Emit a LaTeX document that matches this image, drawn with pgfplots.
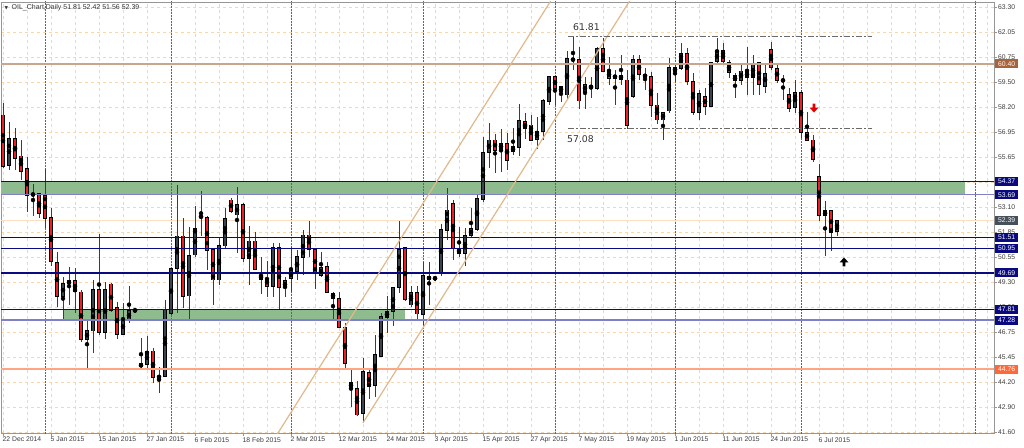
\documentclass[border=0pt]{standalone}
\usepackage{fontspec}
\setmainfont{Liberation Sans}
\newfontfamily\dejavu{DejaVu Sans}
\usepackage{pgfplots}
\usepackage{pgfplotstable}
\pgfplotsset{compat=1.18}

\definecolor{bullc}{RGB}{58,68,78}
\definecolor{bearc}{RGB}{232,32,40}
\definecolor{wickc}{RGB}{60,60,60}
\definecolor{gridc}{RGB}{250,214,170}
\definecolor{bidc}{RGB}{252,222,192}
\definecolor{navyc}{RGB}{10,10,128}
\definecolor{lavc}{RGB}{128,128,200}
\definecolor{greenc}{RGB}{143,188,143}
\definecolor{tanc}{RGB}{200,165,140}
\definecolor{brownbox}{RGB}{165,100,60}
\definecolor{salmonc}{RGB}{255,165,130}
\definecolor{orangebox}{RGB}{255,105,55}
\definecolor{greybox}{RGB}{70,80,90}
\definecolor{chanc}{RGB}{225,185,140}
\definecolor{framec}{RGB}{150,150,150}
\definecolor{sepc}{RGB}{100,100,100}
\definecolor{dashc}{RGB}{105,105,105}
\definecolor{labelc}{RGB}{60,60,60}

% OIL daily candles: bar index, open, high, low, close
\pgfplotstableread{
x o h l c
0 57.77 58.40 55.06 55.13
2 56.58 57.09 54.96 55.56
3 55.67 56.49 54.45 54.87
4 55.01 55.64 52.82 53.64
6 53.73 53.80 52.49 52.74
7 53.66 54.99 51.97 52.49
8 52.54 53.00 50.04 50.26
9 50.21 50.75 47.96 48.47
12 49.29 49.96 47.65 48.73
13 48.71 48.82 46.17 46.29
16 48.85 51.68 46.51 46.63
18 49.12 49.19 47.71 47.79
19 47.93 48.20 46.29 46.56
25 45.69 45.85 44.04 44.33
30 51.58 52.49 47.88 48.47
34 52.54 52.60 49.84 50.86
35 50.90 50.95 48.05 49.33
38 53.42 53.51 52.77 52.82
40 53.20 53.28 50.26 50.44
42 51.32 51.80 49.84 49.88
43 49.58 50.49 48.61 49.36
44 49.41 50.32 48.44 49.02
46 50.98 51.21 47.79 48.95
51 51.63 52.36 50.52 50.90
52 50.90 50.91 48.85 49.67
54 50.01 50.26 48.68 48.71
55 48.65 48.73 47.25 48.39
56 48.36 48.73 46.86 46.91
57 46.91 47.11 44.72 45.06
58 44.07 44.72 42.81 43.79
59 43.79 44.17 42.37 42.42
61 44.60 44.72 43.22 43.87
67 50.98 51.00 48.27 48.34
69 48.70 49.02 47.25 47.59
71 49.50 50.26 48.05 49.36
75 53.22 53.42 50.35 50.95
76 50.95 52.02 50.49 50.69
82 56.49 56.80 54.82 55.98
84 56.32 56.84 54.96 55.43
87 57.43 57.86 56.53 57.09
88 57.26 57.77 56.42 56.49
92 59.73 59.77 58.28 59.14
93 59.22 59.26 58.45 58.96
95 60.66 61.81 60.08 60.55
96 60.59 61.27 58.08 58.49
98 59.26 59.73 58.63 59.17
100 61.19 61.71 59.99 60.02
101 60.04 60.76 59.31 59.65
104 59.56 60.08 57.08 57.26
106 60.59 60.84 59.56 59.86
107 59.86 60.17 59.05 59.70
108 59.73 59.99 57.69 58.28
109 58.28 58.88 57.30 57.52
114 60.93 61.19 59.31 59.48
115 59.48 59.91 57.77 57.89
117 58.71 59.14 57.77 58.23
120 61.05 61.44 60.42 60.50
121 60.45 60.59 59.65 59.96
122 59.77 59.91 58.63 59.53
124 59.99 61.27 58.80 59.70
126 60.47 60.50 58.80 59.36
128 61.10 61.52 60.08 60.19
129 60.16 60.37 59.39 59.56
130 59.61 59.82 58.54 59.48
131 58.83 59.14 57.94 58.12
133 58.91 59.05 56.58 56.89
134 56.89 57.91 56.44 56.49
135 56.49 56.75 55.35 55.52
136 54.61 55.25 52.35 52.62
138 52.87 52.91 50.83 51.75
}\bear

\pgfplotstableread{
x o h l c
1 55.21 57.43 54.96 56.58
5 53.64 54.24 52.60 53.77
10 48.47 49.47 47.28 49.16
11 49.14 49.98 48.05 49.28
14 46.29 47.32 44.76 46.72
15 46.72 49.33 45.58 48.85
17 46.63 49.24 46.29 48.82
20 46.56 48.14 46.51 47.32
21 47.28 49.02 47.11 47.76
22 47.77 47.84 47.69 47.78
23 44.89 46.34 44.72 45.03
24 45.01 46.48 44.72 45.69
26 44.35 44.89 43.56 44.38
27 44.38 48.31 44.35 47.79
28 47.62 49.94 47.54 49.93
29 49.93 54.19 47.62 51.58
31 48.51 52.03 47.33 50.59
32 50.61 53.12 50.52 51.97
33 52.55 53.90 51.58 52.58
36 49.33 51.54 49.07 51.08
37 51.07 53.01 50.95 52.49
39 52.66 54.07 50.73 53.17
41 50.44 52.09 49.07 51.32
45 48.98 51.21 48.44 50.98
47 48.93 49.50 48.44 49.28
48 49.41 51.03 48.73 49.79
49 49.75 50.86 49.33 50.52
50 50.49 51.89 49.58 51.63
53 49.58 50.78 49.50 49.98
60 42.51 45.32 42.02 44.64
62 43.95 46.51 43.36 45.49
63 45.40 47.62 45.37 47.45
64 47.42 48.51 46.63 47.71
65 47.71 48.98 46.97 48.93
66 48.95 52.36 48.68 50.90
68 48.05 49.02 47.93 48.70
70 47.57 50.26 47.02 49.55
72 49.36 49.53 49.29 49.47
73 49.67 52.19 49.53 51.89
74 51.85 54.05 51.38 52.91
77 50.69 51.97 50.04 51.60
78 51.60 53.03 51.46 51.97
79 51.92 53.71 51.85 53.51
80 53.46 56.63 53.34 55.86
81 55.84 57.35 55.04 56.49
83 55.98 57.06 54.87 56.32
85 55.89 57.09 55.73 56.15
86 56.12 58.32 55.67 57.47
89 56.54 57.69 56.02 56.92
90 56.92 58.59 56.49 58.49
91 58.45 59.77 58.28 59.73
94 58.80 61.05 58.54 60.64
97 58.96 59.73 58.08 59.34
99 59.14 61.27 59.05 61.19
102 59.65 60.08 58.28 59.82
103 59.60 60.84 59.31 59.82
105 58.71 60.84 58.64 60.59
110 57.52 57.94 56.49 57.91
111 57.98 60.67 57.86 60.21
112 59.99 60.33 59.48 60.19
113 60.16 61.44 60.08 60.93
116 57.89 59.05 57.52 58.85
118 58.20 60.50 58.17 60.47
119 60.50 61.70 60.37 61.05
123 59.53 60.33 59.31 60.02
125 59.70 60.84 58.80 60.42
127 59.22 60.33 58.88 59.91
132 58.17 59.56 57.86 58.91
137 52.62 53.37 50.57 52.87
139 51.81 52.42 51.56 52.39
}\bull

\pgfdeclareplotmark{dnarrow}{%
  \pgfpathmoveto{\pgfpoint{-1.4pt}{4.5pt}}%
  \pgfpathlineto{\pgfpoint{1.4pt}{4.5pt}}%
  \pgfpathlineto{\pgfpoint{1.4pt}{0.3pt}}%
  \pgfpathlineto{\pgfpoint{4.3pt}{0.3pt}}%
  \pgfpathlineto{\pgfpoint{0pt}{-4.5pt}}%
  \pgfpathlineto{\pgfpoint{-4.3pt}{0.3pt}}%
  \pgfpathlineto{\pgfpoint{-1.4pt}{0.3pt}}%
  \pgfpathclose\pgfusepathqfill}
\pgfdeclareplotmark{uparrow}{%
  \pgfpathmoveto{\pgfpoint{-1.4pt}{-4.5pt}}%
  \pgfpathlineto{\pgfpoint{1.4pt}{-4.5pt}}%
  \pgfpathlineto{\pgfpoint{1.4pt}{-0.3pt}}%
  \pgfpathlineto{\pgfpoint{4.3pt}{-0.3pt}}%
  \pgfpathlineto{\pgfpoint{0pt}{4.5pt}}%
  \pgfpathlineto{\pgfpoint{-4.3pt}{-0.3pt}}%
  \pgfpathlineto{\pgfpoint{-1.4pt}{-0.3pt}}%
  \pgfpathclose\pgfusepathqfill}

\pgfplotsset{
  ebar/.style 2 args={only marks, mark=none, forget plot,
    error bars/.cd, y dir=both, y explicit, error mark=none,
    error bar style={line width=#1, draw=#2}},
  hline/.style={forget plot, no marks},
}
\tikzset{pbox/.style={fill=#1, text=white, font=\fontsize{6.8}{7}\selectfont,
  inner sep=0pt, minimum width=23pt, minimum height=9pt, anchor=west}}

\begin{document}
\begin{tikzpicture}
\fill[white] (0,0) rectangle (1024pt,447pt);
\path[use as bounding box] (0,0) rectangle (1024pt,447pt);
\begin{axis}[
  at={(1pt,14pt)}, anchor=south west,
  scale only axis, width=993pt, height=431pt,
  xmin=-0.3333, xmax=165.1667, ymin=41.497, ymax=63.556,
  axis line style={draw=framec, line width=0.8pt},
  xtick={0,8,...,136},
  xticklabels={22 Dec 2014,5 Jan 2015,15 Jan 2015,27 Jan 2015,6 Feb 2015,18 Feb 2015,2 Mar 2015,12 Mar 2015,24 Mar 2015,3 Apr 2015,15 Apr 2015,27 Apr 2015,7 May 2015,19 May 2015,1 Jun 2015,11 Jun 2015,24 Jun 2015,6 Jul 2015},
  minor xtick={4,12,20,28,36,44,52,60,68,76,84,92,100,108,116,124,132,140,144,148,152,156,160,164},
  ytick={41.55,42.83,44.11,45.39,46.67,47.95,49.23,50.50,51.78,53.06,54.34,55.62,56.90,58.18,59.46,60.74,62.02,63.30},
  yticklabels={41.60,42.90,44.20,45.45,46.75,48.00,49.30,50.55,51.85,53.10,54.35,55.65,56.95,58.20,59.50,60.75,62.05,63.30},
  xtick pos=bottom, ytick pos=right, yticklabel pos=right,
  tick align=outside, major tick length=3pt, minor tick length=0pt,
  tick style={draw=framec, line width=0.6pt},
  grid=both,
  major grid style={draw=gridc, dash pattern=on 3pt off 3pt, line width=0.7pt},
  minor grid style={draw=gridc, dash pattern=on 3pt off 3pt, line width=0.7pt},
  tick label style={font=\fontsize{6.8}{7}\selectfont, text=labelc},
  xticklabel style={anchor=north west, inner sep=0pt, xshift=-0.5pt, yshift=-1pt},
  yticklabel style={anchor=west, inner sep=0pt, xshift=1pt},
]
% support / resistance zones
\addplot[hline, fill=greenc, draw=none] coordinates {(-1,53.69) (160.33,53.69) (160.33,54.37) (-1,54.37)};
\addplot[hline, fill=greenc, draw=none] coordinates {(10,47.28) (67,47.28) (67,47.81) (10,47.81)};

% month separators
\pgfplotsinvokeforeach{7,28,48,70,92,112,133,162}{
  \addplot[hline, draw=sepc, line width=0.8pt, dash pattern=on 1.5pt off 1.5pt] coordinates {(#1,41) (#1,64)};
}
% bid line
\addplot[hline, draw=bidc, line width=0.8pt] coordinates {(-1,52.39) (170,52.39)};

% candles: wicks, body outline, body fill
\addplot[ebar={0.9pt}{wickc}] table[x=x, y expr={(\thisrow{h}+\thisrow{l})/2}, y error expr={(\thisrow{h}-\thisrow{l})/2}] {\bear};
\addplot[ebar={0.9pt}{wickc}] table[x=x, y expr={(\thisrow{h}+\thisrow{l})/2}, y error expr={(\thisrow{h}-\thisrow{l})/2}] {\bull};
\addplot[ebar={4pt}{black}] table[x=x, y expr={(\thisrow{o}+\thisrow{c})/2}, y error expr={abs(\thisrow{c}-\thisrow{o})/2+0.026}] {\bear};
\addplot[ebar={4pt}{black}] table[x=x, y expr={(\thisrow{o}+\thisrow{c})/2}, y error expr={abs(\thisrow{c}-\thisrow{o})/2+0.026}] {\bull};
\addplot[ebar={2.4pt}{bearc}] table[x=x, y expr={(\thisrow{o}+\thisrow{c})/2}, y error expr={max(abs(\thisrow{c}-\thisrow{o})/2-0.02,0)}] {\bear};
\addplot[ebar={2.4pt}{bullc}] table[x=x, y expr={(\thisrow{o}+\thisrow{c})/2}, y error expr={max(abs(\thisrow{c}-\thisrow{o})/2-0.02,0)}] {\bull};

% horizontal levels
\addplot[hline, draw=tanc, line width=1.8pt] coordinates {(-1,60.40) (170,60.40)};
\addplot[hline, draw=navyc, line width=1pt] coordinates {(-1,54.37) (170,54.37)};
\addplot[hline, draw=lavc, line width=1.4pt] coordinates {(-1,53.69) (170,53.69)};
\addplot[hline, draw=navyc, line width=1.6pt] coordinates {(-1,51.51) (170,51.51)};
\addplot[hline, draw=navyc, line width=1pt] coordinates {(-1,50.95) (170,50.95)};
\addplot[hline, draw=navyc, line width=2.4pt] coordinates {(-1,49.69) (170,49.69)};
\addplot[hline, draw=navyc, line width=1pt] coordinates {(-1,47.81) (170,47.81)};
\addplot[hline, draw=lavc, line width=1.4pt] coordinates {(-1,47.28) (170,47.28)};
\addplot[hline, draw=salmonc, line width=1.6pt] coordinates {(-1,44.76) (170,44.76)};

% rising channel
\addplot[hline, draw=chanc, line width=1.2pt] coordinates {(44.83,41.01) (92.17,64.04)};
\addplot[hline, draw=chanc, line width=1.2pt] coordinates {(60,42.02) (105.33,64.04)};

% range top / bottom
\addplot[hline, draw=dashc, line width=1.1pt, dash pattern=on 6pt off 2pt on 2pt off 2pt] coordinates {(94.17,61.81) (144.83,61.81)};
\addplot[hline, draw=dashc, line width=1.1pt, dash pattern=on 6pt off 2pt on 2pt off 2pt] coordinates {(94.17,57.08) (144.83,57.08)};
\node[anchor=west, inner sep=0pt, font=\dejavu\fontsize{9.3}{10}\selectfont, text=black!80] at (axis cs:95,62.26) {61.81};
\node[anchor=west, inner sep=0pt, font=\dejavu\fontsize{9.3}{10}\selectfont, text=black!80] at (axis cs:94,56.53) {57.08};

% signal arrows
\addplot[forget plot, only marks, mark=dnarrow, color=red!90!black] coordinates {(135.17,58.13)};
\addplot[forget plot, only marks, mark=uparrow, color=black] coordinates {(140.17,50.25)};

\coordinate (c6040) at (axis cs:165.1667,60.40);
\coordinate (c5437) at (axis cs:165.1667,54.37);
\coordinate (c5369) at (axis cs:165.1667,53.69);
\coordinate (c5239) at (axis cs:165.1667,52.39);
\coordinate (c5151) at (axis cs:165.1667,51.51);
\coordinate (c5095) at (axis cs:165.1667,50.95);
\coordinate (c4969) at (axis cs:165.1667,49.69);
\coordinate (c4781) at (axis cs:165.1667,47.81);
\coordinate (c4728) at (axis cs:165.1667,47.28);
\coordinate (c4476) at (axis cs:165.1667,44.76);
\end{axis}

\node[pbox=brownbox] at ([xshift=1pt]c6040) {60.40};
\node[pbox=navyc] at ([xshift=1pt]c5437) {54.37};
\node[pbox=navyc] at ([xshift=1pt]c5369) {53.69};
\node[pbox=greybox] at ([xshift=1pt]c5239) {52.39};
\node[pbox=navyc] at ([xshift=1pt]c5151) {51.51};
\node[pbox=navyc] at ([xshift=1pt]c5095) {50.95};
\node[pbox=navyc] at ([xshift=1pt]c4969) {49.69};
\node[pbox=navyc] at ([xshift=1pt]c4781) {47.81};
\node[pbox=navyc] at ([xshift=1pt]c4728) {47.28};
\node[pbox=orangebox] at ([xshift=1pt]c4476) {44.76};

\node[anchor=west, inner sep=0pt, font=\fontsize{7}{8}\selectfont, text=black!80] at (4.5pt,439.5pt)
  {{\dejavu\fontsize{4.5}{5}\selectfont ▼}\hspace{3.5pt}OIL\_Chart,Daily 51.81 52.42 51.56 52.39};
\end{tikzpicture}
\end{document}
